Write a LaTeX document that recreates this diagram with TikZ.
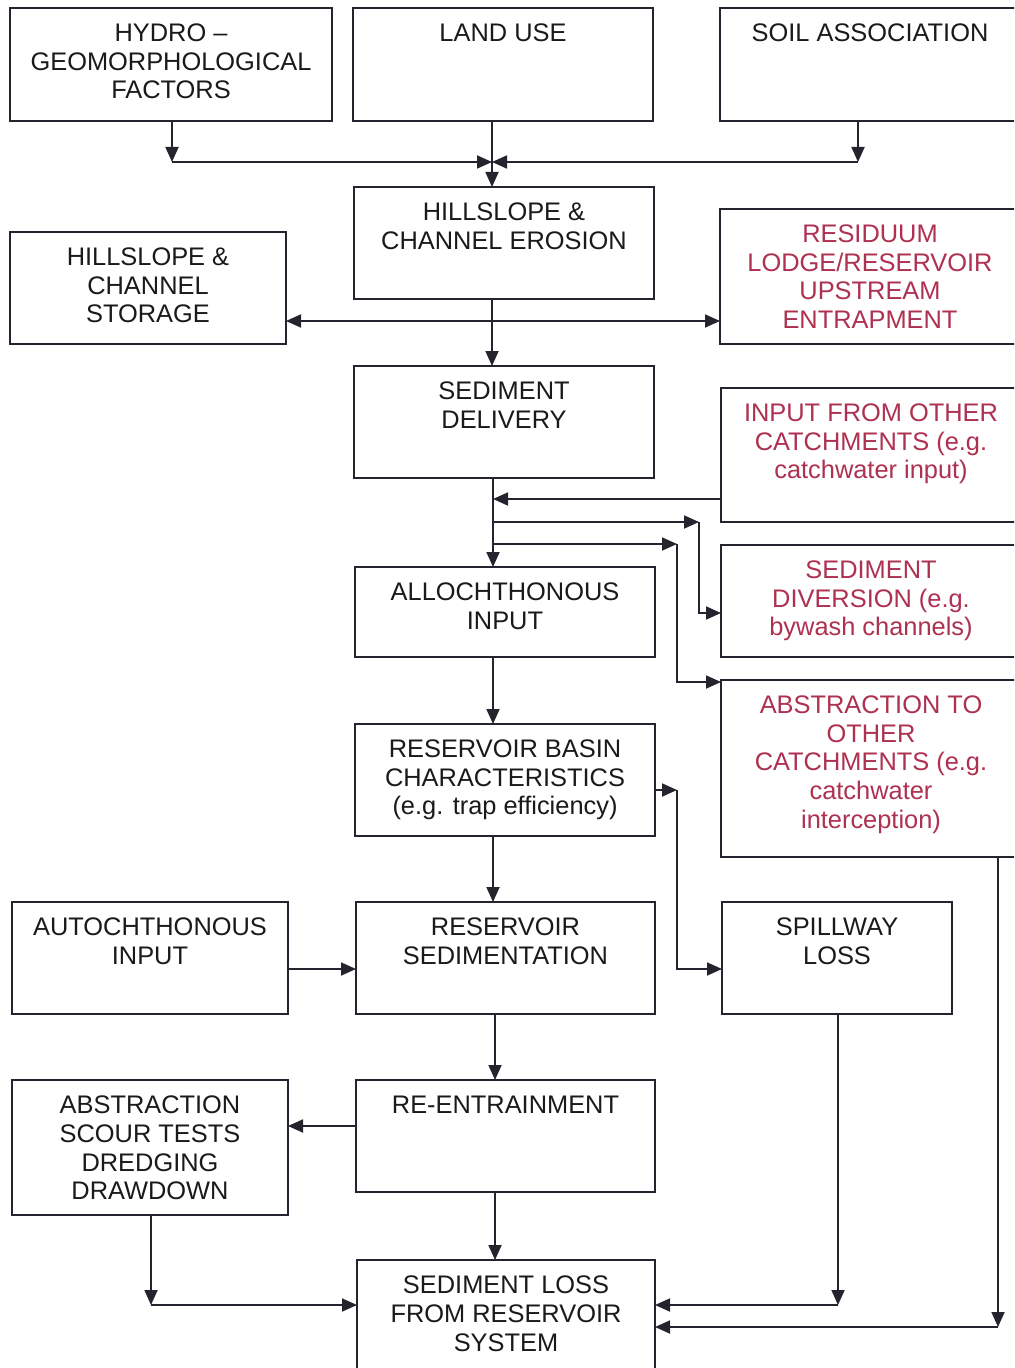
\documentclass[tikz,border=0pt]{standalone}
\usepackage{fontspec}
\setmainfont{Liberation Sans}
\usetikzlibrary{arrows.meta}
\definecolor{linec}{HTML}{26232F}
\definecolor{txtc}{HTML}{1A1A1A}
\definecolor{redc}{HTML}{AE3150}
\newcommand\bxt[3]{\parbox[c][#2][t]{#1}{\centering\vspace*{13.5bp}\strut #3\par}}
\begin{document}
\begin{tikzpicture}[x=1bp,y=-1bp,
  box/.style={draw=linec, line width=1.8bp, inner sep=0pt, outer sep=0pt, text=txtc,
              font=\fontsize{25.4bp}{28.7bp}\selectfont},
  redbox/.style={box, text=redc},
  arr/.style={draw=linec, line width=1.8bp, -{Triangle[length=15bp,width=13bp]}}]
\useasboundingbox (0,0) rectangle (1014,1368);
\fill[white] (0,0) rectangle (1014,1368);
\clip (0,0) rectangle (1014,1368);

% boxes
\node[box] (hydro) at (171,64.5) {\bxt{322bp}{113bp}{HYDRO –\\GEOMORPHOLOGICAL\\FACTORS}};
\node[box] (land) at (503,64.5) {\bxt{300bp}{113bp}{LAND USE}};
\node[box] (soil) at (870,64.5) {\bxt{300bp}{113bp}{SOIL ASSOCIATION}};
\node[box] (erosion) at (504,243) {\bxt{300bp}{112bp}{HILLSLOPE \&\\CHANNEL EROSION}};
\node[box] (storage) at (148,288) {\bxt{276bp}{112bp}{HILLSLOPE \&\\CHANNEL\\STORAGE}};
\node[redbox] (residuum) at (870,276.5) {\bxt{300bp}{135bp}{RESIDUUM\\LODGE/RESERVOIR\\UPSTREAM\\ENTRAPMENT}};
\node[box] (delivery) at (504,422) {\bxt{300bp}{112bp}{SEDIMENT\\DELIVERY}};
\node[redbox] (input) at (871,455) {\bxt{300bp}{134bp}{INPUT FROM OTHER\\CATCHMENTS (e.g.\\catchwater input)}};
\node[box] (alloch) at (505,612) {\bxt{300bp}{90bp}{ALLOCHTHONOUS\\INPUT}};
\node[redbox] (diversion) at (871,601) {\bxt{300bp}{112bp}{SEDIMENT\\DIVERSION (e.g.\\bywash channels)}};
\node[redbox] (abstr) at (871,768.5) {\bxt{300bp}{177bp}{ABSTRACTION TO\\OTHER\\CATCHMENTS (e.g.\\catchwater\\interception)}};
\node[box] (basin) at (505,780) {\bxt{300bp}{112bp}{RESERVOIR BASIN\\CHARACTERISTICS\\(e.g. trap efficiency)}};
\node[box] (autoch) at (150,958) {\bxt{276bp}{112bp}{AUTOCHTHONOUS\\INPUT}};
\node[box] (ressed) at (505.5,958) {\bxt{299bp}{112bp}{RESERVOIR\\SEDIMENTATION}};
\node[box] (spill) at (837,958) {\bxt{230bp}{112bp}{SPILLWAY\\LOSS}};
\node[box] (scour) at (150,1147.5) {\bxt{276bp}{135bp}{ABSTRACTION\\SCOUR TESTS\\DREDGING\\DRAWDOWN}};
\node[box] (reentr) at (505.5,1136) {\bxt{299bp}{112bp}{RE-ENTRAINMENT}};
\node[box] (loss) at (506,1316) {\bxt{298bp}{112bp}{SEDIMENT LOSS\\FROM RESERVOIR\\SYSTEM}};

% top junction
\coordinate (jh) at (172,162);
\coordinate (jt) at (492,162);
\coordinate (js) at (858,162);
\draw[arr] (hydro.south -| jh) -- (jh);
\draw[arr] (jh) -- (jt);
\draw[arr] (soil.south -| js) -- (js);
\draw[arr] (js) -- (jt);
\draw[arr] (land.south -| jt) -- (erosion.north -| jt);

% erosion
\coordinate (ce) at (492,321);
\draw[arr] (erosion.south -| ce) -- (delivery.north -| ce);
\draw[arr] (ce) -- (storage.east |- ce);
\draw[arr] (ce) -- (residuum.west |- ce);

% delivery
\coordinate (cd) at (493,499);
\coordinate (ce1) at (493,522);
\coordinate (ce2) at (493,544);
\draw[arr] (delivery.south -| cd) -- (alloch.north -| cd);
\draw[arr] (input.west |- cd) -- (cd);
\coordinate (k1) at (699,522);
\coordinate (k2) at (699,613);
\draw[arr] (ce1) -- (k1);
\draw[arr] (k1) -- (k2) -- (diversion.west |- k2);
\coordinate (m1) at (677,544);
\coordinate (m2) at (677,682);
\draw[arr] (ce2) -- (m1);
\draw[arr] (m1) -- (m2) -- (abstr.west |- m2);

% basin
\draw[arr] (alloch.south -| cd) -- (basin.north -| cd);
\draw[arr] (basin.south -| cd) -- (ressed.north -| cd);
\coordinate (b1) at (677,790);
\coordinate (b2) at (677,969);
\draw[arr] (basin.east |- b1) -- (b1);
\draw[arr] (b1) -- (b2) -- (spill.west |- b2);
\draw[arr] (autoch.east |- b2) -- (ressed.west |- b2);

% lower
\coordinate (c5) at (495,1126);
\draw[arr] (ressed.south -| c5) -- (reentr.north -| c5);
\draw[arr] (reentr.west |- c5) -- (scour.east |- c5);
\draw[arr] (reentr.south -| c5) -- (loss.north -| c5);
\coordinate (s1) at (151,1305);
\draw[arr] (scour.south -| s1) -- (s1);
\draw[arr] (s1) -- (loss.west |- s1);
\coordinate (p1) at (838,1305);
\draw[arr] (spill.south -| p1) -- (p1);
\draw[arr] (p1) -- (loss.east |- p1);
\coordinate (q1) at (998,1327);
\draw[arr] (abstr.south -| q1) -- (q1);
\draw[arr] (q1) -- (loss.east |- q1);
\end{tikzpicture}
\end{document}
